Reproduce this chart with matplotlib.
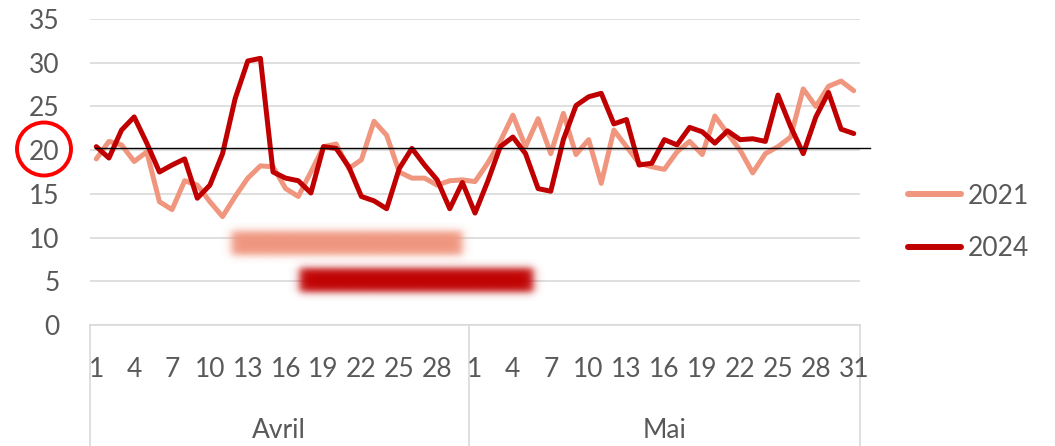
import matplotlib
matplotlib.use('Agg')
import matplotlib.pyplot as plt
import numpy as np
from matplotlib.patches import Ellipse

plt.rcParams['font.family'] = ['Lato', 'DejaVu Sans']

# day-by-day values, 1 April -> 31 May
days = list(range(1, 31)) + list(range(1, 32))
months = ['Avril', 'Mai']
month_len = [30, 31]

vals_2021 = [19.0, 21.0, 20.6, 18.7, 19.8, 14.1, 13.2, 16.5, 16.0, 14.1,
             12.4, 14.7, 16.8, 18.2, 18.1, 15.6, 14.7, 17.5, 20.4, 20.7,
             17.9, 18.9, 23.3, 21.7, 17.5, 16.8, 16.8, 16.0, 16.5, 16.6,
             16.4, 18.5, 21.0, 24.0, 20.4, 23.6, 19.6, 24.2, 19.5, 21.2,
             16.2, 22.3, 20.4, 18.5, 18.1, 17.8, 19.8, 21.0, 19.5, 23.9,
             21.9, 20.0, 17.4, 19.6, 20.4, 21.5, 27.0, 25.0, 27.3, 27.9, 26.8]

vals_2024 = [20.4, 19.1, 22.3, 23.8, 20.8, 17.5, 18.3, 19.0, 14.5, 16.0,
             19.6, 25.9, 30.2, 30.5, 17.5, 16.8, 16.5, 15.1, 20.4, 20.2,
             18.1, 14.7, 14.2, 13.3, 17.9, 20.2, 18.3, 16.6, 13.3, 16.3,
             12.8, 16.4, 20.4, 21.5, 19.6, 15.6, 15.3, 21.2, 25.1, 26.1,
             26.5, 23.0, 23.5, 18.3, 18.5, 21.2, 20.6, 22.6, 22.1, 20.8,
             22.2, 21.2, 21.3, 21.0, 26.3, 22.7, 19.6, 23.8, 26.6, 22.4, 21.9]

# blurred period bars (category index start/end, value low/high)
period_2021 = (10.7, 29.0, 8.0, 10.7)
period_2024 = (16.1, 34.6, 3.8, 6.5)
ref_level = 20.2

c21 = '#F0957E'
c24 = '#C00000'
grey = '#595959'

fig = plt.figure(figsize=(10.55, 4.46), dpi=100)
ax = fig.add_axes([0.0853, 0.2713, 0.7299, 0.6861])

x = np.arange(len(days))
ax.set_yticks(np.arange(0, 36, 5))
ax.grid(axis='y', color='#D9D9D9', lw=1.2)
ax.set_axisbelow(True)
for s in ax.spines.values():
    s.set_visible(False)
ax.tick_params(axis='y', length=0, pad=22, labelsize=19, labelcolor=grey)
ax.tick_params(axis='x', length=0)
ax.set_xticks([])


def blurred_bar(x0, x1, y0, y1, color):
    px, py = 0.9, 1.0
    xs = np.linspace(x0 - px, x1 + px, 400)
    ys = np.linspace(y0 - py, y1 + py, 80)
    X, Y = np.meshgrid(xs, ys)
    sig = lambda t: 1 / (1 + np.exp(-t))
    a = sig((X - x0) / 0.2) * sig((x1 - X) / 0.2) * sig((Y - y0) / 0.25) * sig((y1 - Y) / 0.25)
    rgb = np.array(matplotlib.colors.to_rgb(color))
    img = np.zeros(X.shape + (4,))
    img[..., :3] = rgb
    img[..., 3] = a
    ax.imshow(img, extent=[xs[0], xs[-1], ys[0], ys[-1]], origin='lower',
              aspect='auto', zorder=2, interpolation='bilinear')


blurred_bar(*period_2021, c21)
blurred_bar(*period_2024, c24)
ax.set_xlim(-0.5, len(days) - 0.5)
ax.set_ylim(0, 35)

ax.plot(x, vals_2021, color=c21, lw=3.6, solid_joinstyle='round',
        solid_capstyle='round', label='2021', zorder=3)
ax.plot(x, vals_2024, color=c24, lw=3.6, solid_joinstyle='round',
        solid_capstyle='round', label='2024', zorder=4)

ax.plot([-0.1, 61.3], [ref_level, ref_level], color='black', lw=1.0,
        clip_on=False, zorder=5)

# category axis: days and months
trans = ax.get_xaxis_transform()
ax_h = 0.6861 * 446
for i in range(0, len(days), 3):
    ax.text(i, -(377 - 325) / ax_h, str(days[i]), transform=trans,
            ha='center', va='baseline', fontsize=19, color=grey)
start = -0.5
bounds = [start]
for m, n in zip(months, month_len):
    ax.text(start + n / 2, -(438 - 325) / ax_h, m, transform=trans,
            ha='center', va='baseline', fontsize=19, color=grey)
    start += n
    bounds.append(start)
for b in bounds:
    ax.plot([b, b], [0, -0.4], transform=trans, color='#D9D9D9', lw=1.2,
            clip_on=False)
ax.plot([-0.5, len(days) - 0.5], [0, 0], color='#D9D9D9', lw=1.2,
        transform=trans, clip_on=False)

leg = ax.legend(loc='center left', bbox_to_anchor=(1.032, 0.335), frameon=False,
                fontsize=19, handlelength=2.0, handletextpad=0.25,
                labelspacing=1.05)
for t in leg.get_texts():
    t.set_color(grey)
for h in leg.get_lines():
    h.set_linewidth(4.3)
    h.set_solid_capstyle('round')

# red circle around the 20 label
fig.add_artist(Ellipse((44 / 1055, 1 - 149 / 446), 54 / 1055, 53 / 446,
                       transform=fig.transFigure, fill=False,
                       edgecolor='#FF0000', lw=2.8))

fig.savefig('out.png', dpi=100)
